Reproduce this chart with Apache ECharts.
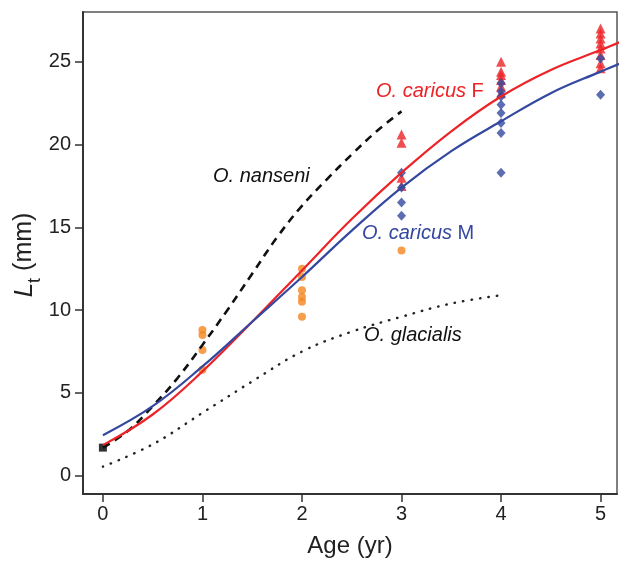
<!DOCTYPE html>
<html>
<head>
<meta charset="utf-8">
<script src="https://cdn.jsdelivr.net/npm/echarts@6/dist/echarts.min.js"></script>
<style>
html, body { margin: 0; padding: 0; background: #fff; }
#main { width: 619px; height: 562px; }
</style>
</head>
<body>
<div id="main"></div>
<script>
// measured points, age (yr) / length Lt (mm)
var femaleAge = [3, 3, 3, 3, 4, 4, 4, 4, 4, 4, 5, 5, 5, 5, 5, 5, 5, 5];
var femaleLt = [20.6, 20.1, 18.0, 17.5, 25.0, 24.4, 24.2, 23.9, 23.5, 23.1, 27.0, 26.7, 26.4, 26.1, 25.8, 25.4, 24.9, 24.6];
var maleAge = [3, 3, 3, 3, 4, 4, 4, 4, 4, 4, 4, 4, 5, 5];
var maleLt = [18.3, 17.4, 16.5, 15.7, 23.7, 23.2, 22.9, 22.4, 21.9, 21.3, 20.7, 18.3, 25.2, 23.0];
var juvAge = [1, 1, 1, 1, 2, 2, 2, 2, 2, 2, 3];
var juvLt = [8.8, 8.5, 7.6, 6.4, 12.5, 12.0, 11.2, 10.8, 10.5, 9.6, 13.6];
var larvaAge = [0];
var larvaLt = [1.7];

// fitted growth curves
var fitAge = [0, 0.5, 1, 1.5, 2, 2.5, 3, 3.5, 4, 4.5, 5, 5.2];
var fitFemale = [1.85, 3.7, 6.3, 9.3, 12.4, 15.5, 18.3, 20.8, 22.9, 24.5, 25.7, 26.2];
var fitMale = [2.45, 4.2, 6.6, 9.3, 12.0, 14.8, 17.4, 19.6, 21.4, 23.1, 24.4, 24.9];
var nanseniAge = [0, 0.25, 0.5, 0.75, 1, 1.25, 1.5, 1.75, 2, 2.25, 2.5, 2.75, 3];
var nanseniLt = [1.7, 2.7, 4.2, 5.9, 7.9, 10.0, 12.2, 14.4, 16.3, 17.9, 19.4, 20.8, 22.0];
var glacialisAge = [0, 0.5, 1, 1.5, 2, 2.5, 3, 3.5, 4];
var glacialisLt = [0.55, 1.9, 3.8, 5.7, 7.5, 8.7, 9.6, 10.4, 10.9];

var tickVals = [0, 5, 10, 15, 20, 25];
var ageTicks = [0, 1, 2, 3, 4, 5];

function pairs(xs, ys) {
    return xs.map(function (x, i) { return [x, ys[i]]; });
}

var RED = '#ec2327';
var BLUE = '#34489f';
var ORANGE = '#f5861f';
var FONT = 'Liberation Sans';

var chart = echarts.init(document.getElementById('main'));
var option = {
    backgroundColor: '#fff',
    animation: false,
    textStyle: { fontFamily: FONT },
    grid: {
        left: 83, right: 2, top: 12, bottom: 68,
        outerBoundsMode: 'none', containLabel: false,
        show: true, borderColor: '#555', borderWidth: 1.5
    },
    xAxis: {
        type: 'value', min: -0.2, max: 5.165,
        name: 'Age (yr)', nameLocation: 'middle', nameGap: 40,
        nameTextStyle: { fontSize: 24, color: '#222', fontFamily: FONT },
        axisLine: { show: true, onZero: false, lineStyle: { color: '#333', width: 2 } },
        axisTick: { show: true, length: 8, customValues: ageTicks, lineStyle: { color: '#333', width: 1.5 } },
        axisLabel: { customValues: ageTicks, fontSize: 20, color: '#222', margin: 10, fontFamily: FONT },
        splitLine: { show: false }
    },
    yAxis: {
        type: 'value', min: -1.1, max: 28,
        axisLine: { show: true, onZero: false, lineStyle: { color: '#333', width: 2 } },
        axisTick: { show: true, length: 8, customValues: tickVals, lineStyle: { color: '#333', width: 1.5 } },
        axisLabel: { customValues: tickVals, fontSize: 20, color: '#222', margin: 12, fontFamily: FONT },
        splitLine: { show: false }
    },
    series: [
        {
            name: 'O. glacialis', type: 'line', data: pairs(glacialisAge, glacialisLt),
            smooth: 0.4, showSymbol: false,
            lineStyle: { color: '#222', width: 2.4, type: [0.5, 8], cap: 'round' }
        },
        {
            name: 'O. nanseni', type: 'line', data: pairs(nanseniAge, nanseniLt),
            smooth: 0.4, showSymbol: false,
            lineStyle: { color: '#111', width: 2.6, type: [8, 6] }
        },
        {
            name: 'juveniles', type: 'scatter', data: pairs(juvAge, juvLt),
            symbol: 'circle', symbolSize: 8, itemStyle: { color: ORANGE }
        },
        {
            name: 'larvae', type: 'scatter', data: pairs(larvaAge, larvaLt),
            symbol: 'rect', symbolSize: 8, itemStyle: { color: '#000' }
        },
        {
            name: 'female', type: 'scatter', data: pairs(femaleAge, femaleLt),
            symbol: 'triangle', symbolSize: [10, 10], itemStyle: { color: RED }
        },
        {
            name: 'male', type: 'scatter', data: pairs(maleAge, maleLt),
            symbol: 'diamond', symbolSize: [9, 10], itemStyle: { color: BLUE }
        },
        {
            name: 'O. caricus F', type: 'line', data: pairs(fitAge, fitFemale),
            smooth: 0.4, showSymbol: false,
            lineStyle: { color: RED, width: 2.2 }
        },
        {
            name: 'O. caricus M', type: 'line', data: pairs(fitAge, fitMale),
            smooth: 0.4, showSymbol: false,
            lineStyle: { color: BLUE, width: 2.2 }
        }
    ],
    graphic: [
        {
            // y axis title, rotated
            type: 'text', x: 28, y: 255, rotation: Math.PI / 2,
            style: {
                text: '{l|L}{t|t}{m| (mm)}', align: 'center', verticalAlign: 'middle',
                rich: {
                    l: { fontSize: 26, fontStyle: 'italic', fill: '#222', fontFamily: FONT, lineHeight: 26, verticalAlign: 'top' },
                    t: { fontSize: 18, fill: '#222', fontFamily: FONT, lineHeight: 32, verticalAlign: 'bottom' },
                    m: { fontSize: 25, fill: '#222', fontFamily: FONT, lineHeight: 26, verticalAlign: 'top' }
                }
            }
        },
        {
            type: 'text', left: 376, top: 81,
            style: {
                text: '{i|O. caricus} F', fill: RED, font: '20px ' + FONT,
                rich: { i: { fontStyle: 'italic', fontSize: 20, fontFamily: FONT, fill: RED } }
            }
        },
        {
            type: 'text', left: 362, top: 223,
            style: {
                text: '{i|O. caricus} M', fill: BLUE, font: '20px ' + FONT,
                rich: { i: { fontStyle: 'italic', fontSize: 20, fontFamily: FONT, fill: BLUE } }
            }
        },
        {
            type: 'text', left: 213, top: 166,
            style: { text: 'O. nanseni', fill: '#111', font: 'italic 20px ' + FONT }
        },
        {
            type: 'text', left: 364, top: 325,
            style: { text: 'O. glacialis', fill: '#111', font: 'italic 20px ' + FONT }
        }
    ]
};
chart.setOption(option);
</script>
</body>
</html>
